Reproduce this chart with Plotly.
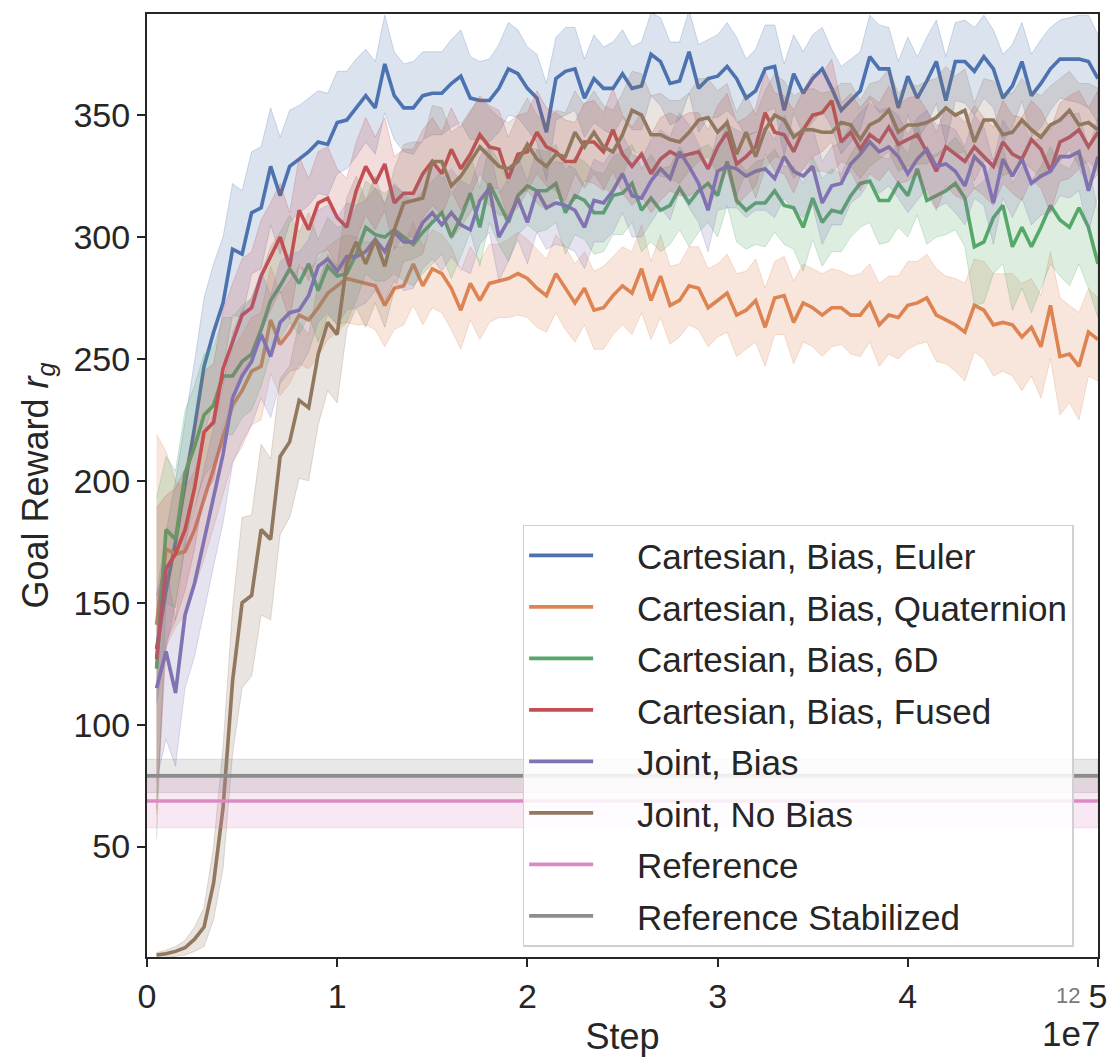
import plotly.graph_objects as go

# ---------------- data ----------------
steps = [500000 * i for i in range(1, 101)]

series_names = [
    "Cartesian, Bias, Euler",
    "Cartesian, Bias, Quaternion",
    "Cartesian, Bias, 6D",
    "Cartesian, Bias, Fused",
    "Joint, Bias",
    "Joint, No Bias",
]

euler = [131, 155, 175, 198, 222, 247, 261, 273, 295, 293,
         310, 312, 329, 317, 329, 332, 335, 339, 338, 347,
         348, 353, 358, 353, 371, 358, 353, 353, 358, 359,
         359, 363, 366, 357, 356, 356, 361, 369, 367, 361,
         357, 343, 365, 368, 369, 357, 365, 361, 361, 367,
         361, 362, 375, 372, 363, 364, 376, 361, 365, 366,
         370, 365, 357, 360, 369, 370, 352, 367, 359, 365,
         369, 361, 352, 356, 360, 374, 369, 369, 353, 366,
         357, 364, 372, 356, 372, 372, 368, 374, 369, 357,
         362, 372, 358, 363, 369, 373, 373, 373, 372, 365]

quaternion = [141, 172, 170, 171, 180, 192, 205, 218, 231, 237,
              245, 247, 266, 256, 261, 268, 266, 271, 277, 280,
              283, 282, 281, 280, 272, 279, 280, 289, 280, 287,
              285, 279, 270, 281, 274, 281, 282, 283, 285, 283,
              279, 276, 285, 279, 273, 279, 270, 271, 276, 280,
              277, 287, 274, 284, 272, 274, 280, 279, 271, 274,
              277, 268, 270, 274, 263, 275, 276, 265, 273, 271,
              268, 271, 271, 268, 268, 273, 264, 268, 267, 272,
              273, 275, 268, 266, 264, 261, 272, 270, 264, 265,
              264, 259, 263, 255, 272, 251, 252, 247, 261, 258]

sixd = [123, 180, 176, 203, 214, 227, 231, 243, 243, 249,
        252, 262, 274, 280, 287, 281, 289, 278, 288, 284,
        285, 293, 304, 301, 300, 303, 300, 297, 302, 306,
        310, 300, 308, 318, 304, 322, 314, 306, 317, 321,
        319, 319, 322, 310, 317, 315, 310, 310, 317, 318,
        322, 311, 316, 311, 313, 320, 314, 319, 322, 317,
        331, 315, 311, 314, 314, 319, 313, 312, 304, 316,
        306, 311, 310, 317, 322, 323, 315, 315, 322, 317,
        328, 315, 317, 319, 322, 316, 296, 298, 308, 313,
        296, 304, 296, 304, 313, 307, 304, 312, 304, 289]

fused = [127, 164, 170, 180, 197, 220, 224, 246, 257, 268,
         271, 284, 292, 300, 288, 311, 303, 314, 316, 308,
         304, 319, 329, 322, 330, 314, 318, 318, 326, 331,
         326, 336, 328, 334, 342, 337, 336, 324, 334, 335,
         343, 337, 335, 331, 331, 339, 339, 335, 344, 334,
         329, 334, 326, 332, 335, 333, 334, 335, 328, 337,
         343, 330, 333, 337, 351, 343, 342, 335, 344, 350,
         351, 356, 339, 343, 336, 342, 339, 345, 338, 340,
         342, 335, 327, 337, 334, 331, 337, 333, 329, 339,
         334, 332, 340, 336, 327, 339, 341, 344, 337, 343]

joint_bias = [115, 130, 113, 145, 158, 176, 193, 211, 234, 243,
              249, 260, 251, 265, 269, 270, 276, 288, 291, 286,
              292, 292, 294, 299, 294, 302, 298, 298, 306, 310,
              305, 310, 305, 303, 315, 320, 300, 307, 316, 306,
              319, 312, 314, 313, 311, 304, 315, 314, 319, 326,
              317, 316, 323, 328, 324, 335, 329, 322, 311, 327,
              329, 328, 325, 327, 328, 324, 333, 327, 325, 329,
              314, 321, 322, 330, 334, 339, 335, 337, 333, 326,
              332, 336, 329, 330, 327, 321, 333, 329, 314, 332,
              325, 332, 322, 325, 327, 333, 333, 335, 319, 333]

joint_nobias = [5.5, 6, 7, 8.5, 12, 17, 35, 66, 118, 150,
                153, 180, 176, 210, 216, 233, 230, 252, 265, 260,
                289, 298, 289, 299, 288, 303, 314, 315, 316, 331,
                331, 321, 325, 331, 337, 333, 329, 328, 331, 338,
                332, 329, 334, 333, 343, 337, 343, 337, 335, 342,
                352, 350, 342, 342, 340, 339, 343, 348, 349, 343,
                347, 334, 343, 333, 344, 350, 348, 341, 344, 344,
                343, 343, 347, 346, 340, 346, 348, 352, 343, 346,
                346, 347, 349, 353, 350, 352, 339, 348, 348, 342,
                343, 348, 344, 341, 346, 348, 352, 346, 347, 344]

# half-width of the shaded confidence band of each series
euler_err = [22, 24, 25, 26, 27, 28, 28, 27, 27, 26,
             25, 25, 24, 24, 23, 22, 22, 21, 21, 21,
             20, 20, 19, 19, 20, 18, 18, 19, 18, 17,
             17, 18, 19, 17, 16, 17, 18, 19, 18, 17,
             18, 20, 17, 18, 17, 16, 18, 17, 19, 18,
             17, 18, 17, 18, 17, 16, 17, 18, 16, 17,
             18, 17, 16, 17, 18, 17, 19, 16, 17, 18,
             17, 16, 18, 17, 16, 17, 18, 17, 19, 16,
             17, 18, 17, 18, 16, 17, 18, 17, 16, 18,
             17, 16, 17, 18, 17, 16, 17, 18, 19, 18]

quaternion_err = [78, 40, 30, 26, 24, 24, 24, 24, 23, 23,
                  22, 22, 22, 21, 21, 20, 20, 20, 19, 19,
                  18, 18, 17, 18, 17, 17, 16, 17, 16, 16,
                  16, 17, 16, 15, 16, 16, 15, 16, 17, 16,
                  16, 15, 16, 17, 16, 15, 16, 17, 16, 16,
                  17, 18, 16, 17, 16, 15, 16, 17, 16, 15,
                  16, 17, 16, 17, 16, 15, 16, 17, 16, 16,
                  17, 16, 15, 16, 17, 16, 17, 16, 17, 18,
                  17, 18, 19, 18, 19, 20, 19, 20, 21, 20,
                  21, 22, 20, 21, 22, 24, 20, 22, 18, 17]

sixd_err = [70, 30, 28, 26, 25, 25, 24, 24, 24, 23,
            23, 23, 22, 22, 22, 21, 21, 21, 20, 20,
            20, 19, 19, 19, 18, 18, 18, 17, 17, 17,
            17, 17, 16, 16, 16, 16, 17, 16, 16, 16,
            17, 16, 16, 17, 16, 16, 17, 16, 16, 17,
            16, 17, 18, 17, 16, 17, 18, 17, 16, 17,
            18, 17, 16, 17, 18, 17, 16, 17, 18, 17,
            18, 17, 16, 17, 18, 17, 18, 17, 18, 17,
            19, 18, 17, 18, 19, 20, 24, 25, 23, 24,
            26, 25, 27, 25, 24, 23, 24, 23, 25, 22]

fused_err = [62, 30, 27, 25, 25, 25, 24, 24, 24, 23,
             23, 23, 22, 22, 22, 22, 21, 21, 21, 20,
             20, 20, 20, 19, 19, 19, 18, 18, 18, 18,
             17, 17, 17, 17, 16, 17, 16, 17, 16, 16,
             17, 16, 16, 17, 16, 16, 17, 16, 17, 16,
             16, 17, 16, 17, 16, 16, 17, 16, 16, 17,
             16, 17, 16, 16, 17, 16, 16, 17, 16, 17,
             16, 17, 16, 16, 17, 16, 16, 17, 16, 17,
             16, 17, 16, 16, 17, 16, 17, 16, 16, 17,
             16, 17, 16, 16, 17, 16, 17, 16, 16, 17]

joint_bias_err = [38, 36, 30, 30, 30, 29, 28, 28, 27, 27,
                  26, 26, 25, 25, 24, 24, 23, 23, 22, 22,
                  22, 21, 21, 21, 20, 20, 20, 19, 19, 19,
                  19, 18, 18, 18, 18, 18, 18, 17, 17, 17,
                  17, 17, 17, 17, 17, 17, 17, 16, 17, 16,
                  17, 16, 17, 16, 17, 16, 17, 16, 17, 16,
                  17, 16, 17, 16, 17, 16, 17, 16, 17, 16,
                  17, 16, 17, 16, 17, 16, 17, 16, 17, 16,
                  17, 16, 17, 16, 17, 16, 17, 16, 17, 16,
                  17, 16, 17, 16, 17, 16, 17, 16, 17, 16]

joint_nobias_err = [1, 1.5, 2, 3, 5, 8, 15, 25, 30, 35,
                    33, 35, 33, 32, 31, 32, 30, 29, 28, 28,
                    27, 27, 26, 26, 25, 25, 24, 24, 23, 23,
                    22, 22, 21, 21, 20, 20, 20, 19, 19, 19,
                    18, 18, 18, 18, 17, 17, 17, 17, 17, 17,
                    16, 17, 16, 17, 16, 17, 16, 17, 16, 17,
                    16, 17, 16, 17, 16, 17, 16, 17, 16, 17,
                    16, 17, 16, 17, 16, 17, 16, 17, 16, 17,
                    16, 17, 16, 17, 16, 17, 16, 17, 16, 17,
                    16, 17, 16, 17, 16, 17, 16, 17, 16, 17]

reference_names = ["Reference", "Reference Stabilized"]
reference_mean = [68.7, 79.0]
reference_err = [11.0, 6.8]
reference_span = [0, 50000000]

x_tick_vals = [0, 10000000, 20000000, 30000000, 40000000, 50000000]
x_tick_text = ["0", "1", "2", "3", "4", "5"]
y_tick_vals = [50, 100, 150, 200, 250, 300, 350]

# ---------------- styling ----------------
colors = ["#4C72B0", "#DD8452", "#55A868", "#C44E52", "#8172B3", "#937860"]
ref_colors = ["#DA8BC3", "#8C8C8C"]
FONT = "Liberation Sans, Arial, Helvetica, sans-serif"
TXT = "#262626"
LW = 3.6
PAD = "\u00a0\u00a0\u00a0\u00a0"  # gap between legend line sample and label


def rgba(hexcol, a):
    h = hexcol.lstrip("#")
    r, g, b = int(h[0:2], 16), int(h[2:4], 16), int(h[4:6], 16)
    return f"rgba({r},{g},{b},{a})"


fig = go.Figure()

means = [euler, quaternion, sixd, fused, joint_bias, joint_nobias]
errs = [euler_err, quaternion_err, sixd_err, fused_err, joint_bias_err, joint_nobias_err]

for k, (name, m, e, c) in enumerate(zip(series_names, means, errs, colors)):
    upper = [v + d for v, d in zip(m, e)]
    lower = [v - d for v, d in zip(m, e)]
    grp = f"g{k}"
    fig.add_trace(go.Scatter(
        x=steps + steps[::-1], y=upper + lower[::-1],
        fill="toself", fillcolor=rgba(c, 0.2),
        line=dict(color=rgba(c, 0.25), width=1),
        mode="lines", hoverinfo="skip", showlegend=False, legendgroup=grp,
    ))
    fig.add_trace(go.Scatter(
        x=steps, y=m, mode="lines", name=PAD + name, legendgroup=grp,
        line=dict(color=c, width=LW),
    ))

for k, (name, m, e, c) in enumerate(zip(reference_names, reference_mean, reference_err, ref_colors)):
    x0, x1 = reference_span
    grp = f"r{k}"
    fig.add_trace(go.Scatter(
        x=[x0, x1, x1, x0], y=[m + e, m + e, m - e, m - e],
        fill="toself", fillcolor=rgba(c, 0.2),
        line=dict(color=rgba(c, 0.25), width=1),
        mode="lines", hoverinfo="skip", showlegend=False, legendgroup=grp,
    ))
    fig.add_trace(go.Scatter(
        x=[x0, x1], y=[m, m], mode="lines", name=PAD + name, legendgroup=grp,
        line=dict(color=c, width=LW),
    ))

axis_common = dict(
    showline=True, mirror=True, linecolor=TXT, linewidth=2,
    ticks="outside", ticklen=8, tickwidth=2, tickcolor=TXT,
    showgrid=False, zeroline=False,
    tickfont=dict(family=FONT, size=34, color=TXT),
)

fig.update_layout(
    width=1119, height=1062,
    margin=dict(l=147, r=15, t=12, b=99),
    paper_bgcolor="white", plot_bgcolor="white",
    font=dict(family=FONT, color=TXT),
    xaxis=dict(
        range=[0, 50000000], tickvals=x_tick_vals, ticktext=x_tick_text,
        title=dict(text="Step", font=dict(family=FONT, size=36, color=TXT), standoff=10),
        **axis_common,
    ),
    yaxis=dict(
        range=[4.7, 391.5], tickvals=y_tick_vals,
        title=dict(text="Goal Reward <i>r</i><sub><i>g</i></sub>",
                   font=dict(family=FONT, size=36, color=TXT), standoff=14),
        **axis_common,
    ),
    legend=dict(
        x=0.395, y=0.4585, xanchor="left", yanchor="top",
        bgcolor="rgba(255,255,255,0.85)", bordercolor="#d0d0d0", borderwidth=1.5,
        font=dict(family=FONT, size=35, color=TXT),
        itemwidth=64, traceorder="grouped", tracegroupgap=3,
    ),
    annotations=[
        dict(text="1e7", xref="paper", yref="paper", x=1.004, y=-0.081,
             xanchor="right", yanchor="middle", showarrow=False,
             font=dict(family=FONT, size=35, color=TXT)),
        dict(text="12", xref="paper", yref="paper", x=0.968, y=-0.041,
             xanchor="center", yanchor="middle", showarrow=False,
             font=dict(family=FONT, size=22, color="#7a7a7a")),
    ],
)

fig.write_html("out.html")
